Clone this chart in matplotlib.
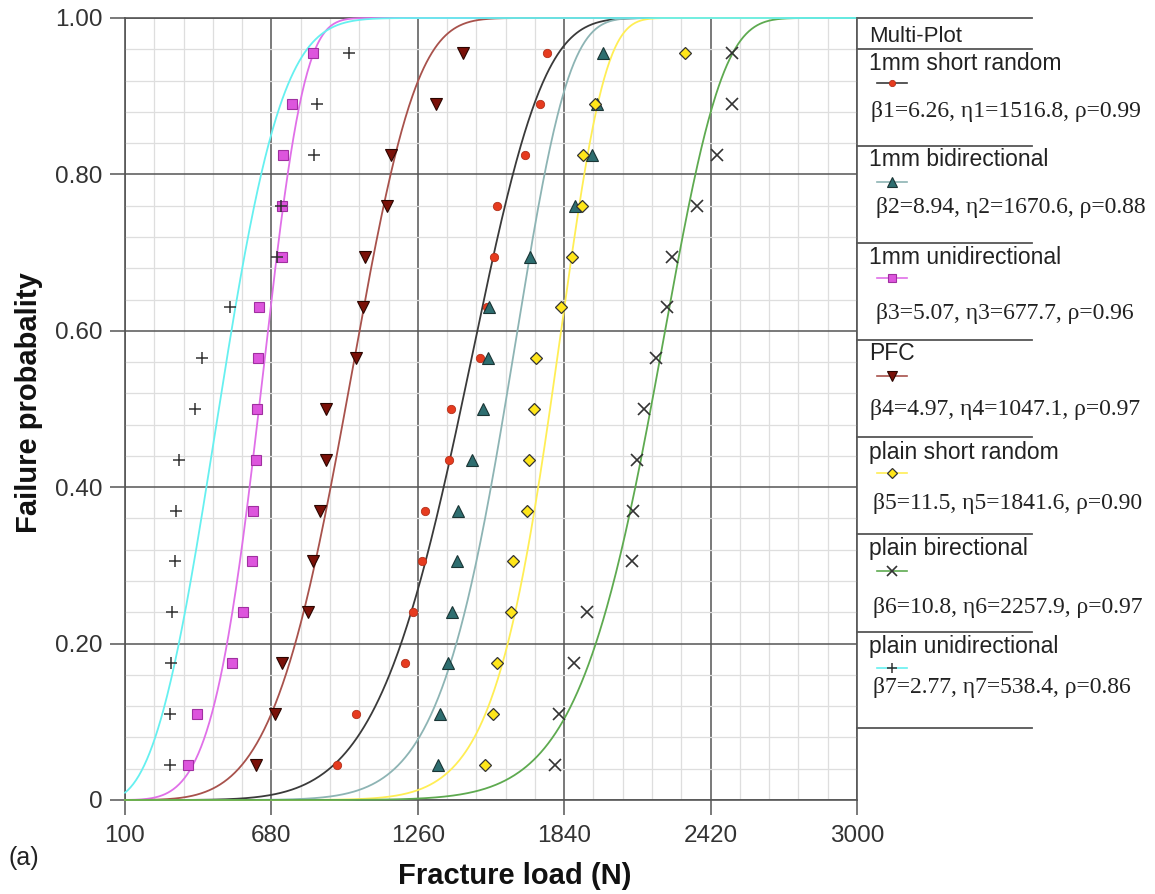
import numpy as np
import matplotlib
matplotlib.use("Agg")
import matplotlib.pyplot as plt
from matplotlib.lines import Line2D
from matplotlib.ticker import FixedLocator

plt.rcParams["font.family"] = ["Liberation Sans", "DejaVu Sans"]

W, H = 1155, 894

# -- Data ---------------------------------------------------------
# median ranks shared by every specimen group
RANKS = [0.045, 0.11, 0.175, 0.24, 0.305, 0.37, 0.435, 0.5,
         0.565, 0.63, 0.695, 0.76, 0.825, 0.89, 0.955]

LOAD_1MM_SHORT_RANDOM = [940, 1015, 1209, 1241, 1277, 1289, 1384, 1392,
                         1506, 1534, 1562, 1574, 1685, 1744, 1772]
LOAD_1MM_BIDIRECTIONAL = [1340, 1348, 1380, 1396, 1415, 1419, 1475, 1518,
                          1538, 1542, 1705, 1883, 1950, 1970, 1994]
LOAD_1MM_UNIDIRECTIONAL = [350, 385, 524, 568, 603, 607, 619, 623,
                           627, 631, 722, 722, 726, 762, 845]
LOAD_PFC = [619, 694, 722, 825, 845, 873, 896, 896,
            1015, 1043, 1051, 1138, 1154, 1332, 1439]
LOAD_PLAIN_SHORT_RANDOM = [1526, 1558, 1574, 1629, 1637, 1693, 1701, 1720,
                           1728, 1827, 1871, 1911, 1915, 1962, 2319]
LOAD_PLAIN_BIRECTIONAL = [1804, 1820, 1879, 1930, 2109, 2113, 2129, 2156,
                          2204, 2247, 2267, 2366, 2445, 2505, 2505]
LOAD_PLAIN_UNIDIRECTIONAL = [278, 278, 282, 286, 298, 302, 314, 377,
                             405, 516, 702, 718, 849, 861, 987]

NAMES = ["1mm short random", "1mm bidirectional", "1mm unidirectional", "PFC",
         "plain short random", "plain birectional", "plain unidirectional"]
BETAS = ["6.26", "8.94", "5.07", "4.97", "11.5", "10.8", "2.77"]
ETAS = ["1516.8", "1670.6", "677.7", "1047.1", "1841.6", "2257.9", "538.4"]
RHOS = ["0.99", "0.88", "0.96", "0.97", "0.90", "0.97", "0.86"]

LOADS = [LOAD_1MM_SHORT_RANDOM, LOAD_1MM_BIDIRECTIONAL, LOAD_1MM_UNIDIRECTIONAL,
         LOAD_PFC, LOAD_PLAIN_SHORT_RANDOM, LOAD_PLAIN_BIRECTIONAL,
         LOAD_PLAIN_UNIDIRECTIONAL]

X_TICKS = [100, 680, 1260, 1840, 2420, 3000]
Y_TICKS = [0, 0.2, 0.4, 0.6, 0.8, 1.0]
Y_TICK_LABELS = ["0", "0.20", "0.40", "0.60", "0.80", "1.00"]

# -- Styles -------------------------------------------------------
CURVE_COLORS = ["#3a3a3a", "#8db4b4", "#e070e8", "#a8524c",
                "#ffee55", "#5eaa50", "#66f0f0"]
MARKERS = [
    dict(marker="o", ms=6, mfc="#e63b1f", mec="#b3301a", mew=0.6),
    dict(marker="^", ms=9, mfc="#2e6e70", mec="#1a3535", mew=0.8),
    dict(marker="s", ms=7, mfc="#dd55dd", mec="#a030a0", mew=0.8),
    dict(marker="v", ms=9, mfc="#7a1008", mec="#2a0500", mew=0.8),
    dict(marker="D", ms=6.5, mfc="#ffe61a", mec="#333333", mew=0.9),
    dict(marker="x", ms=9, mfc="none", mec="#333333", mew=1.2),
    dict(marker="+", ms=9, mfc="none", mec="#333333", mew=1.1),
]
GRID_DARK = "#555555"
GRID_LIGHT = "#dedede"


def fx(px):
    return px / W


def fy(py):
    return 1 - py / H


fig = plt.figure(figsize=(W / 100, H / 100), dpi=100)
ax = fig.add_axes([fx(125), fy(800), 732 / W, 782 / H])

x = np.linspace(100, 3000, 800)
for i in range(len(NAMES)):
    beta, eta = float(BETAS[i]), float(ETAS[i])
    cdf = 1 - np.exp(-(x / eta) ** beta)
    ax.plot(x, cdf, color=CURVE_COLORS[i], lw=1.3, zorder=3, clip_on=False)

for i in range(len(NAMES)):
    ax.plot(LOADS[i], RANKS, ls="none", zorder=4, **MARKERS[i])

ax.set_xlim(100, 3000)
ax.set_ylim(0, 1)
ax.set_xticks(X_TICKS)
ax.set_yticks(Y_TICKS)
ax.set_yticklabels(Y_TICK_LABELS)
ax.xaxis.set_minor_locator(FixedLocator(np.arange(100, 3001, 116)))
ax.yaxis.set_minor_locator(FixedLocator(np.arange(0, 1.001, 0.04)))
ax.set_axisbelow(True)
ax.grid(which="minor", color=GRID_LIGHT, lw=0.9)
ax.grid(which="major", color=GRID_DARK, lw=1.1)
ax.tick_params(which="minor", length=0)
ax.tick_params(which="major", direction="out", length=11, width=1.1,
               color=GRID_DARK, labelsize=17.5, labelcolor="#333333")
ax.tick_params(axis="x", pad=7)
ax.tick_params(axis="y", pad=5)
for sp in ax.spines.values():
    sp.set_color(GRID_DARK)
    sp.set_linewidth(1.2)

fig.text(fx(29), fy(403), "Failure probabality", rotation=90, ha="center",
         va="center", fontsize=21, fontweight="bold", color="#111111")
fig.text(fx(515), fy(876), "Fracture load (N)", ha="center", va="center",
         fontsize=21, fontweight="bold", color="#111111")
fig.text(fx(8), fy(858), "(a)", ha="left", va="center", fontsize=18,
         color="#222222")

# -- Legend panel -------------------------------------------------
SEP_LINES = [18, 49, 146, 243, 340, 437, 534, 632, 728]
for yy in SEP_LINES:
    fig.add_artist(Line2D([fx(857), fx(1032)], [fy(yy), fy(yy)],
                          transform=fig.transFigure, color=GRID_DARK, lw=1.3))

fig.text(fx(869), fy(37), "Multi-Plot", ha="left", va="center", fontsize=16,
         color="#222222")

LABEL_Y = [63, 159, 257, 354, 452, 548, 647]
SWATCH_Y = [83, 182, 278, 376, 473, 571, 668]
PARAM_Y = [112, 207, 313, 409, 503, 607, 687]
PARAM_X = [871, 876, 876, 870, 873, 873, 873]

for i in range(len(NAMES)):
    fig.text(fx(869), fy(LABEL_Y[i]), NAMES[i], ha="left", va="center",
             fontsize=16.5, color="#222222")
    yy = fy(SWATCH_Y[i])
    fig.add_artist(Line2D([fx(877), fx(907)], [yy, yy], transform=fig.transFigure,
                          color=CURVE_COLORS[i], lw=1.2))
    mk = dict(MARKERS[i])
    mk["ms"] = mk["ms"] * 0.75
    fig.add_artist(Line2D([fx(892)], [yy], transform=fig.transFigure,
                          ls="none", **mk))
    k = i + 1
    txt = f"\u03b2{k}={BETAS[i]}, \u03b7{k}={ETAS[i]}, \u03c1={RHOS[i]}"
    fig.text(fx(PARAM_X[i]), fy(PARAM_Y[i]), txt, ha="left", va="center",
             fontsize=17, color="#222222",
             family=["Liberation Serif", "DejaVu Serif"])

fig.savefig("out.png", dpi=100)
